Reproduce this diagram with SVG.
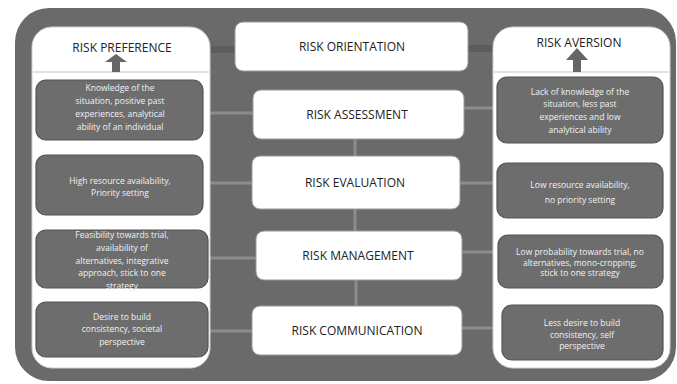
<svg xmlns="http://www.w3.org/2000/svg" width="677" height="384" viewBox="0 0 677 384">
<style>
.panel{fill:#fff;stroke:#d0d0d0;stroke-width:1}
.gbox{fill:#6d6d6d;stroke:#555;stroke-width:1.2}
.wbox{fill:#fff;stroke:#9a9a9a;stroke-width:1}
.gt{font-family:"Open Sans","Liberation Sans",sans-serif;font-size:8.5px;fill:#f2f2f2;text-anchor:middle}
.ct{font-family:"Open Sans","Liberation Sans",sans-serif;font-size:12px;fill:#222;text-anchor:middle}
.ht{font-family:"Open Sans","Liberation Sans",sans-serif;font-size:12px;fill:#222;text-anchor:middle}
.conn{stroke:#8c8c8c;stroke-width:3;fill:none}
.stub{fill:#5c5c5c}
.arrow{fill:#666}
</style>
<rect width="677" height="384" fill="#fff"/>
<rect id="frame" x="15" y="8" width="661" height="373" rx="34" fill="#6a6a6a"/>
<g id="connectors">
<line class="conn" x1="203" y1="113" x2="253" y2="113"/>
<line class="conn" x1="203" y1="183" x2="252" y2="183"/>
<line class="conn" x1="208" y1="258" x2="256" y2="258"/>
<line class="conn" x1="208" y1="331" x2="252" y2="331"/>
<line class="conn" x1="462" y1="108" x2="497" y2="108"/>
<line class="conn" x1="460" y1="183" x2="497" y2="183"/>
<line class="conn" x1="462" y1="252" x2="498" y2="252"/>
<line class="conn" x1="462" y1="328" x2="502" y2="328"/>
<line class="conn" x1="355" y1="139" x2="355" y2="156"/>
<line class="conn" x1="355" y1="209" x2="355" y2="231"/>
<line class="conn" x1="356" y1="280" x2="356" y2="306"/>
<rect class="stub" x="195" y="46" width="40" height="7"/>
<rect class="stub" x="468" y="45" width="42" height="7"/>
</g>
<g id="risk-preference">
<rect class="panel" x="32" y="27" width="178" height="341" rx="20"/>
<line x1="33" y1="72" x2="209" y2="72" stroke="#d8d8d8" stroke-width="1.5"/>
<text class="ht" x="122" y="52">RISK PREFERENCE</text>
<path class="arrow" d="M116 54 L127 62 L120 62 L120 72 L112 72 L112 62 L105 62 Z"/>
</g>
<g id="risk-aversion">
<rect class="panel" x="493" y="27" width="177" height="341" rx="20"/>
<line x1="494" y1="72" x2="669" y2="72" stroke="#d8d8d8" stroke-width="1.5"/>
<text class="ht" x="579" y="47">RISK AVERSION</text>
<path class="arrow" d="M577 48 L588 60 L581 60 L581 72 L573 72 L573 60 L566 60 Z"/>
</g>
<g id="risk-orientation">
<rect class="wbox" x="235" y="22" width="233" height="49" rx="8"/>
<text class="ct" x="352" y="51">RISK ORIENTATION</text>
</g>
<g id="risk-assessment">
<rect class="wbox" x="253" y="90" width="211" height="49" rx="8"/>
<text class="ct" x="357" y="119">RISK ASSESSMENT</text>
</g>
<g id="risk-evaluation">
<rect class="wbox" x="252" y="156" width="208" height="53" rx="8"/>
<text class="ct" x="355" y="187">RISK EVALUATION</text>
</g>
<g id="risk-management">
<rect class="wbox" x="256" y="231" width="206" height="49" rx="8"/>
<text class="ct" x="358" y="260">RISK MANAGEMENT</text>
</g>
<g id="risk-communication">
<rect class="wbox" x="252" y="306" width="210" height="49" rx="8"/>
<text class="ct" x="357" y="335">RISK COMMUNICATION</text>
</g>
<g id="pref-1">
<rect class="gbox" x="36" y="80" width="167" height="60" rx="10"/>
<text class="gt" x="120"><tspan x="120" y="91">Knowledge of the</tspan><tspan x="120" y="104">situation, positive past</tspan><tspan x="120" y="117">experiences, analytical</tspan><tspan x="120" y="130">ability of an individual</tspan></text>
</g>
<g id="pref-2">
<rect class="gbox" x="36" y="155" width="167" height="60" rx="10"/>
<text class="gt"><tspan x="120" y="184">High resource availability,</tspan><tspan x="120" y="196">Priority setting</tspan></text>
</g>
<g id="pref-3">
<rect class="gbox" x="36" y="230" width="172" height="58" rx="10"/>
<text class="gt"><tspan x="122" y="238">Feasibility towards trial,</tspan><tspan x="122" y="251">availability of</tspan><tspan x="122" y="264">alternatives, integrative</tspan><tspan x="122" y="276">approach, stick to one</tspan><tspan x="122" y="289">strategy</tspan></text>
</g>
<g id="pref-4">
<rect class="gbox" x="36" y="302" width="172" height="55" rx="10"/>
<text class="gt"><tspan x="122" y="320">Desire to build</tspan><tspan x="122" y="332">consistency, societal</tspan><tspan x="122" y="345">perspective</tspan></text>
</g>
<g id="aver-1">
<rect class="gbox" x="497" y="77" width="166" height="66" rx="10"/>
<text class="gt"><tspan x="580" y="95">Lack of knowledge of the</tspan><tspan x="580" y="107">situation, less past</tspan><tspan x="580" y="120">experiences and low</tspan><tspan x="580" y="133">analytical ability</tspan></text>
</g>
<g id="aver-2">
<rect class="gbox" x="497" y="163" width="166" height="55" rx="10"/>
<text class="gt"><tspan x="580" y="188">Low resource availability,</tspan><tspan x="580" y="203">no priority setting</tspan></text>
</g>
<g id="aver-3">
<rect class="gbox" x="498" y="235" width="165" height="53" rx="10"/>
<text class="gt"><tspan x="580" y="255">Low probability towards trial, no</tspan><tspan x="580" y="266">alternatives, mono-cropping,</tspan><tspan x="580" y="276">stick to one strategy</tspan></text>
</g>
<g id="aver-4">
<rect class="gbox" x="502" y="305" width="161" height="55" rx="10"/>
<text class="gt"><tspan x="582" y="326">Less desire to build</tspan><tspan x="582" y="338">consistency, self</tspan><tspan x="582" y="349">perspective</tspan></text>
</g>
</svg>
